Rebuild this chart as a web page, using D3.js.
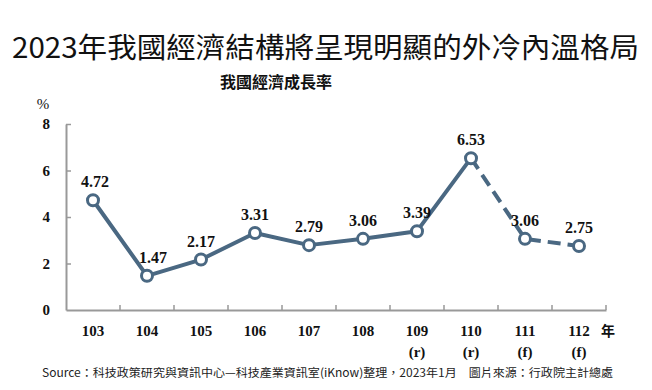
<!DOCTYPE html>
<html><head><meta charset="utf-8">
<script src="https://cdn.jsdelivr.net/npm/d3@7"></script>
<style>body{margin:0;background:#fff}</style>
</head><body>
<svg id="c" width="652" height="390"></svg>
<script>
const categories = ["103","104","105","106","107","108","109","110","111","112"];
const subLabels = ["","","","","","","(r)","(r)","(f)","(f)"];
const values = [4.72,1.47,2.17,3.31,2.79,3.06,3.39,6.53,3.06,2.75];
const valueLabels = ["4.72","1.47","2.17","3.31","2.79","3.06","3.39","6.53","3.06","2.75"];
const yTicks = [0,2,4,6,8];
const solidUntil = 7; // index of last actual (110)

const svg = d3.select("#c");
const color = "#4a6882";
const serif = "'Liberation Serif','Times New Roman',serif";

const x = d3.scaleBand().domain(categories).range([66,606]);
const y = d3.scaleLinear().domain([0,8]).range([310,124]);

svg.append("text").attr("x",12).attr("y",58)
  .attr("font-family","'Noto Sans CJK TC','Noto Sans',sans-serif").attr("font-size",28)
  .attr("textLength",627).attr("lengthAdjust","spacingAndGlyphs")
  .attr("fill","#111").text("2023年我國經濟結構將呈現明顯的外冷內溫格局");
svg.append("text").attr("x",276).attr("y",88).attr("text-anchor","middle")
  .attr("font-family","'Noto Sans CJK TC',sans-serif").attr("font-weight","bold").attr("font-size",16)
  .attr("fill","#111").text("我國經濟成長率");
svg.append("text").attr("x",43).attr("y",109).attr("text-anchor","middle")
  .attr("font-family",serif).attr("font-size",15).attr("fill","#111").text("%");

// axes
const axisColor = "#999";
const yAxis = svg.append("g").attr("transform","translate(66,0)")
  .call(d3.axisLeft(y).tickValues(yTicks).tickSize(5).tickSizeOuter(0).tickFormat(d3.format("d")));
yAxis.select(".domain").attr("stroke",axisColor).attr("stroke-width",2);
yAxis.selectAll(".tick line").attr("stroke",axisColor).attr("stroke-width",1.5).attr("x2",5).attr("x1",0);
yAxis.selectAll(".tick text").attr("x",-16).attr("font-family",serif).attr("font-weight","bold")
  .attr("font-size",15).attr("fill","#111");
yAxis.selectAll(".tick").filter(d=>d===0).select("line").remove();

const xAxis = svg.append("g").attr("transform","translate(0,310)")
  .call(d3.axisBottom(x).tickSize(0).tickSizeOuter(0));
xAxis.select(".domain").attr("stroke",axisColor).attr("stroke-width",2);
xAxis.selectAll(".tick text").remove();
// band boundary ticks
const bounds = categories.map(c=>x(c)+x.bandwidth());
svg.append("g").selectAll("line").data(bounds).join("line")
  .attr("x1",d=>d).attr("x2",d=>d).attr("y1",310).attr("y2",305)
  .attr("stroke",axisColor).attr("stroke-width",1.5);

const cx = c => x(c)+x.bandwidth()/2;
svg.append("g").selectAll("text").data(categories).join("text")
  .attr("x",d=>cx(d)).attr("y",336).attr("text-anchor","middle")
  .attr("font-family",serif).attr("font-weight","bold").attr("font-size",15).attr("fill","#111")
  .text(d=>d);
svg.append("g").selectAll("text").data(categories).join("text")
  .attr("x",d=>cx(d)).attr("y",357).attr("text-anchor","middle")
  .attr("font-family",serif).attr("font-weight","bold").attr("font-size",15).attr("fill","#111")
  .text((d,i)=>subLabels[i]);
svg.append("text").attr("x",608).attr("y",336).attr("text-anchor","middle")
  .attr("font-family","'Noto Sans CJK TC',sans-serif").attr("font-weight","bold").attr("font-size",14)
  .attr("fill","#111").text("年");

const pts = categories.map((c,i)=>({c,v:values[i],i}));
const line = d3.line().x(d=>cx(d.c)).y(d=>y(d.v));
svg.append("path").datum(pts.slice(0,solidUntil+1)).attr("d",line)
  .attr("fill","none").attr("stroke",color).attr("stroke-width",4).attr("stroke-linejoin","round");
svg.append("path").datum(pts.slice(solidUntil)).attr("d",line)
  .attr("fill","none").attr("stroke",color).attr("stroke-width",4).attr("stroke-dasharray","13,7");

svg.append("g").selectAll("circle").data(pts).join("circle")
  .attr("cx",d=>cx(d.c)).attr("cy",d=>y(d.v)).attr("r",5.5)
  .attr("fill","#fff").attr("stroke",color).attr("stroke-width",3);

svg.append("g").selectAll("text").data(pts).join("text")
  .attr("x",d=>cx(d.c)+ (d.i===1?6:(d.i===0?2:0))).attr("y",d=>y(d.v)-13).attr("text-anchor","middle")
  .attr("font-family",serif).attr("font-weight","bold").attr("font-size",16).attr("fill","#111")
  .text(d=>valueLabels[d.i]);

svg.append("text").attr("x",42).attr("y",377)
  .attr("font-family","'Noto Sans CJK TC','Noto Sans',sans-serif").attr("font-size",11.5).attr("fill","#222")
  .attr("textLength",571).attr("lengthAdjust","spacingAndGlyphs")
  .text("Source：科技政策研究與資訊中心—科技產業資訊室(iKnow)整理，2023年1月　圖片來源：行政院主計總處");
</script>
</body></html>
